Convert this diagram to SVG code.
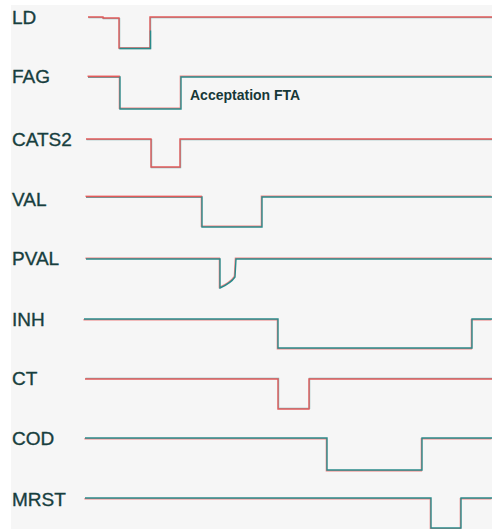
<svg xmlns="http://www.w3.org/2000/svg" xmlns:xlink="http://www.w3.org/1999/xlink" width="492" height="529" viewBox="0 0 492 529">
  <style>
    .lbl { font-family: "Liberation Sans", Arial, sans-serif; font-size: 19px; fill: #173e3e; stroke: #173e3e; stroke-width: 0.35; }
    .note { font-family: "Liberation Sans", Arial, sans-serif; font-size: 14px; font-weight: bold; fill: #173838; }
    .w { fill: none; stroke-width: 1.4; stroke-linejoin: miter; }
    .red { stroke: #ee8080; }
    .teal { stroke: #2a8a8a; }
    .tealL { stroke: #7fb5b5; }
    .redS { stroke: #e25a5a; }
  </style>
  <defs>
    <path id="pLD" d="M88,17 H103 V18 H119 V48 H150 V17 H492"/>
    <path id="pFAG" d="M88,77 H120 V109 H181 V77 H492"/>
    <path id="pCATS2" d="M86,139 H151 V167 H180 V139 H492"/>
    <path id="pVAL" d="M86,197 H202 V227 H262 V197 H492"/>
    <path id="pPVAL" d="M86,259 H220 V288 Q231,283 235,277 L236,259 H492"/>
    <path id="pINH" d="M84,319 H278 V348 H472 V319 H492"/>
    <path id="pCT" d="M85,379 H278 V409 H309 V379 H492"/>
    <path id="pCOD" d="M85,438 H327 V470 H422 V438 H492"/>
    <path id="pMRST" d="M85,498 H431 V528 H461 V498 H492"/>
  </defs>
  <rect x="0" y="0" width="492" height="529" fill="#ffffff"/>
  <rect x="11" y="5" width="481" height="524" fill="#f6f6f6"/>

  <g id="LD">
    <text class="lbl" x="12" y="24">LD</text>
    <use xlink:href="#pLD" class="w tealL" transform="translate(0.5,0.6)"/>
    <use xlink:href="#pLD" class="w redS"/>
    <path class="w teal" d="M119,48 H150 V30" transform="translate(0.5,0.5)"/>
  </g>
  <g id="FAG">
    <text class="lbl" x="12" y="83">FAG</text>
    <use xlink:href="#pFAG" class="w red" transform="translate(-0.6,-0.7)"/>
    <use xlink:href="#pFAG" class="w teal"/>
    <path class="w redS" d="M88,76.6 H119.6"/>
    <text class="note" x="190" y="99.5">Acceptation FTA</text>
  </g>
  <g id="CATS2">
    <text class="lbl" x="12" y="146">CATS2</text>
    <use xlink:href="#pCATS2" class="w tealL" transform="translate(0.5,0.6)"/>
    <use xlink:href="#pCATS2" class="w redS"/>
  </g>
  <g id="VAL">
    <text class="lbl" x="12" y="206">VAL</text>
    <use xlink:href="#pVAL" class="w red" transform="translate(-0.6,-0.7)"/>
    <use xlink:href="#pVAL" class="w teal"/>
    <path class="w redS" d="M86,196.6 H201.6"/>
  </g>
  <g id="PVAL">
    <text class="lbl" x="12" y="265">PVAL</text>
    <use xlink:href="#pPVAL" class="w red" transform="translate(-0.6,-0.7)"/>
    <use xlink:href="#pPVAL" class="w teal"/>
  </g>
  <g id="INH">
    <text class="lbl" x="12" y="326">INH</text>
    <use xlink:href="#pINH" class="w red" transform="translate(-0.6,0.7)"/>
    <use xlink:href="#pINH" class="w teal"/>
  </g>
  <g id="CT">
    <text class="lbl" x="12" y="385">CT</text>
    <use xlink:href="#pCT" class="w tealL" transform="translate(0.5,-0.6)"/>
    <use xlink:href="#pCT" class="w redS"/>
  </g>
  <g id="COD">
    <text class="lbl" x="12" y="445">COD</text>
    <use xlink:href="#pCOD" class="w red" transform="translate(-0.6,0.7)"/>
    <use xlink:href="#pCOD" class="w teal"/>
  </g>
  <g id="MRST">
    <text class="lbl" x="12" y="506">MRST</text>
    <use xlink:href="#pMRST" class="w red" transform="translate(-0.6,0.7)"/>
    <use xlink:href="#pMRST" class="w teal"/>
  </g>
  <g id="connectors"/>
</svg>
